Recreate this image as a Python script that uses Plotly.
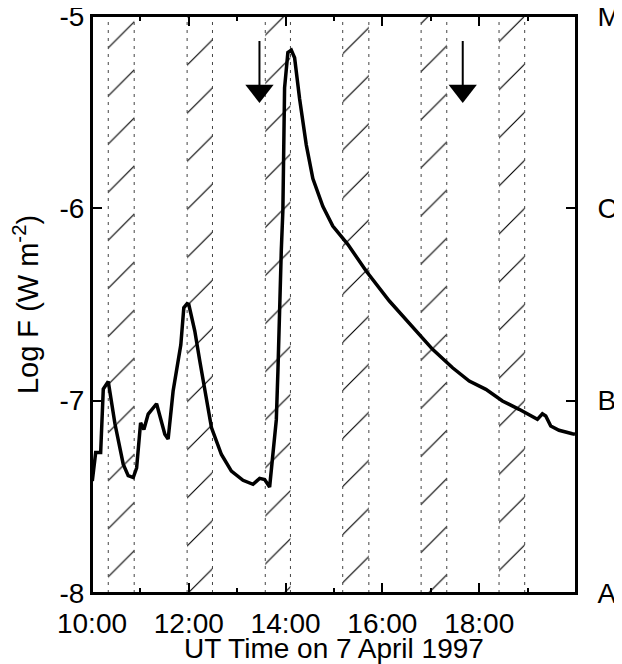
import numpy as np
import plotly.graph_objects as go

# GOES flux, 7 April 1997 (hours UT, log10 W m^-2)
t_hr = [10.006, 10.076, 10.179, 10.233, 10.336, 10.474, 10.645, 10.748, 10.852, 10.922,
        11.004, 11.072, 11.161, 11.334, 11.505, 11.573, 11.676, 11.835, 11.897, 11.965,
        12.0, 12.124, 12.227, 12.33, 12.468, 12.674, 12.88, 13.12, 13.326, 13.464,
        13.567, 13.67, 13.732, 13.808, 13.841, 13.876, 13.911, 13.944, 13.959, 13.979,
        14.047, 14.118, 14.186, 14.289, 14.427, 14.563, 14.769, 14.975, 15.285, 15.664,
        16.144, 16.66, 17.037, 17.45, 17.794, 18.138, 18.48, 18.825, 19.202, 19.305,
        19.375, 19.478, 19.649, 19.924, 19.979]
logF = [-7.418, -7.27, -7.27, -6.94, -6.90, -7.12, -7.33, -7.39, -7.40, -7.35,
        -7.115, -7.15, -7.07, -7.016, -7.175, -7.20, -6.95, -6.71, -6.517, -6.496,
        -6.50, -6.638, -6.794, -6.95, -7.14, -7.28, -7.366, -7.414, -7.435, -7.404,
        -7.41, -7.449, -7.30, -7.10, -6.85, -6.48, -6.22, -6.01, -5.60, -5.373,
        -5.19, -5.178, -5.217, -5.43, -5.67, -5.845, -5.99, -6.092, -6.187, -6.326,
        -6.482, -6.629, -6.733, -6.829, -6.898, -6.941, -7.002, -7.045, -7.097, -7.068,
        -7.08, -7.132, -7.154, -7.172, -7.175]

# hatched intervals (start, end in hours UT)
band_start = [10.336, 11.965, 13.58, 15.18, 16.80, 18.41]
band_end = [10.872, 12.489, 14.10, 15.72, 17.33, 18.94]

# arrows
arrow_t = [13.46, 17.66]
arrow_top = -5.13
arrow_base = -5.36
arrow_head = -5.389

xtick_vals = [10, 12, 14, 16, 18]
xtick_text = ["10:00", "12:00", "14:00", "16:00", "18:00"]
xminor_vals = [11, 13, 15, 17, 19]
ytick_vals = [-8, -7, -6, -5]
ytick_text = ["-8", "-7", "-6", "-5"]
class_text = ["A", "B", "C", "M"]

FONT = "Liberation Sans, Arial, sans-serif"

fig = go.Figure()

bs = np.array(band_start)
be = np.array(band_end)
fig.add_trace(go.Bar(x=(bs + be) / 2, y=[3] * len(bs), base=-8, width=be - bs,
                     marker=dict(color="rgba(0,0,0,0)", line=dict(width=0),
                                 pattern=dict(shape="/", size=34, solidity=0.035,
                                              fgcolor="black", fgopacity=1,
                                              fillmode="overlay")),
                     showlegend=False, hoverinfo="skip"))

ex, ey = [], []
for a, b in zip(band_start, band_end):
    for v in (a, b):
        ex += [v, v, None]
        ey += [-8, -5, None]
fig.add_trace(go.Scatter(x=ex, y=ey, mode="lines",
                         line=dict(color="#444", width=1, dash="3px,5px"),
                         showlegend=False, hoverinfo="skip"))

fig.add_trace(go.Scatter(x=t_hr, y=logF, mode="lines",
                         line=dict(color="black", width=3.5),
                         showlegend=False))

sx, sy = [], []
for a in arrow_t:
    sx += [a, a, None]
    sy += [arrow_top, arrow_base, None]
fig.add_trace(go.Scatter(x=sx, y=sy, mode="lines", line=dict(color="black", width=2),
                         showlegend=False, hoverinfo="skip"))
fig.add_trace(go.Scatter(x=arrow_t, y=[arrow_head] * len(arrow_t), mode="markers",
                         marker=dict(symbol="triangle-down", size=24.5, color="black",
                                     line=dict(width=0)),
                         showlegend=False, hoverinfo="skip"))

# dummy traces so the right-hand and top axes get drawn
fig.add_trace(go.Scatter(x=[10], y=[-8], yaxis="y2", mode="markers",
                         marker=dict(opacity=0), showlegend=False, hoverinfo="skip"))
fig.add_trace(go.Scatter(x=[10], y=[-8], xaxis="x2", mode="markers",
                         marker=dict(opacity=0), showlegend=False, hoverinfo="skip"))

tick_style = dict(ticks="inside", ticklen=10, tickwidth=2, tickcolor="black",
                  showline=True, linecolor="black", linewidth=2,
                  showgrid=False, zeroline=False, automargin=False,
                  ticklabeloverflow="allow")
minor_style = dict(tickvals=xminor_vals, ticks="inside", ticklen=5,
                   tickwidth=2, tickcolor="black")

# page body adds an 8px margin, so the figure is 8px smaller each way
fig.update_layout(
    width=614, height=656,
    margin=dict(l=84, r=46, t=8, b=71),
    paper_bgcolor="white", plot_bgcolor="white",
    font=dict(family=FONT, size=28, color="black"),
    barmode="overlay",
    xaxis=dict(range=[10, 20], tickvals=xtick_vals, ticktext=xtick_text,
               minor=minor_style, ticklabelstandoff=4, **tick_style),
    xaxis2=dict(range=[10, 20], tickvals=xtick_vals, showticklabels=False,
                overlaying="x", side="top", anchor="y",
                minor=minor_style, **tick_style),
    yaxis=dict(range=[-8, -5], tickvals=ytick_vals, ticktext=ytick_text,
               ticklabelstandoff=0,
               title=dict(text="Log F (W m<sup>-2</sup>)", font=dict(size=29)),
               **tick_style),
    yaxis2=dict(range=[-8, -5], tickvals=ytick_vals, ticktext=class_text,
                overlaying="y", side="right", ticklabelstandoff=14,
                **tick_style),
    # frame in paper coordinates, not clipped to the plot area
    shapes=[dict(type="line", xref="paper", yref="paper", x0=0, x1=1, y0=1, y1=1,
                 line=dict(color="black", width=2), layer="above"),
            dict(type="rect", xref="paper", yref="paper", x0=0, x1=1, y0=0, y1=1,
                 line=dict(color="black", width=2), fillcolor="rgba(0,0,0,0)",
                 layer="above")],
    annotations=[dict(text="UT Time on 7 April 1997", xref="paper", yref="paper",
                      x=0.5, y=-0.126, xanchor="center", yanchor="bottom",
                      showarrow=False, font=dict(size=28))],
)

fig.write_html("out.html")
